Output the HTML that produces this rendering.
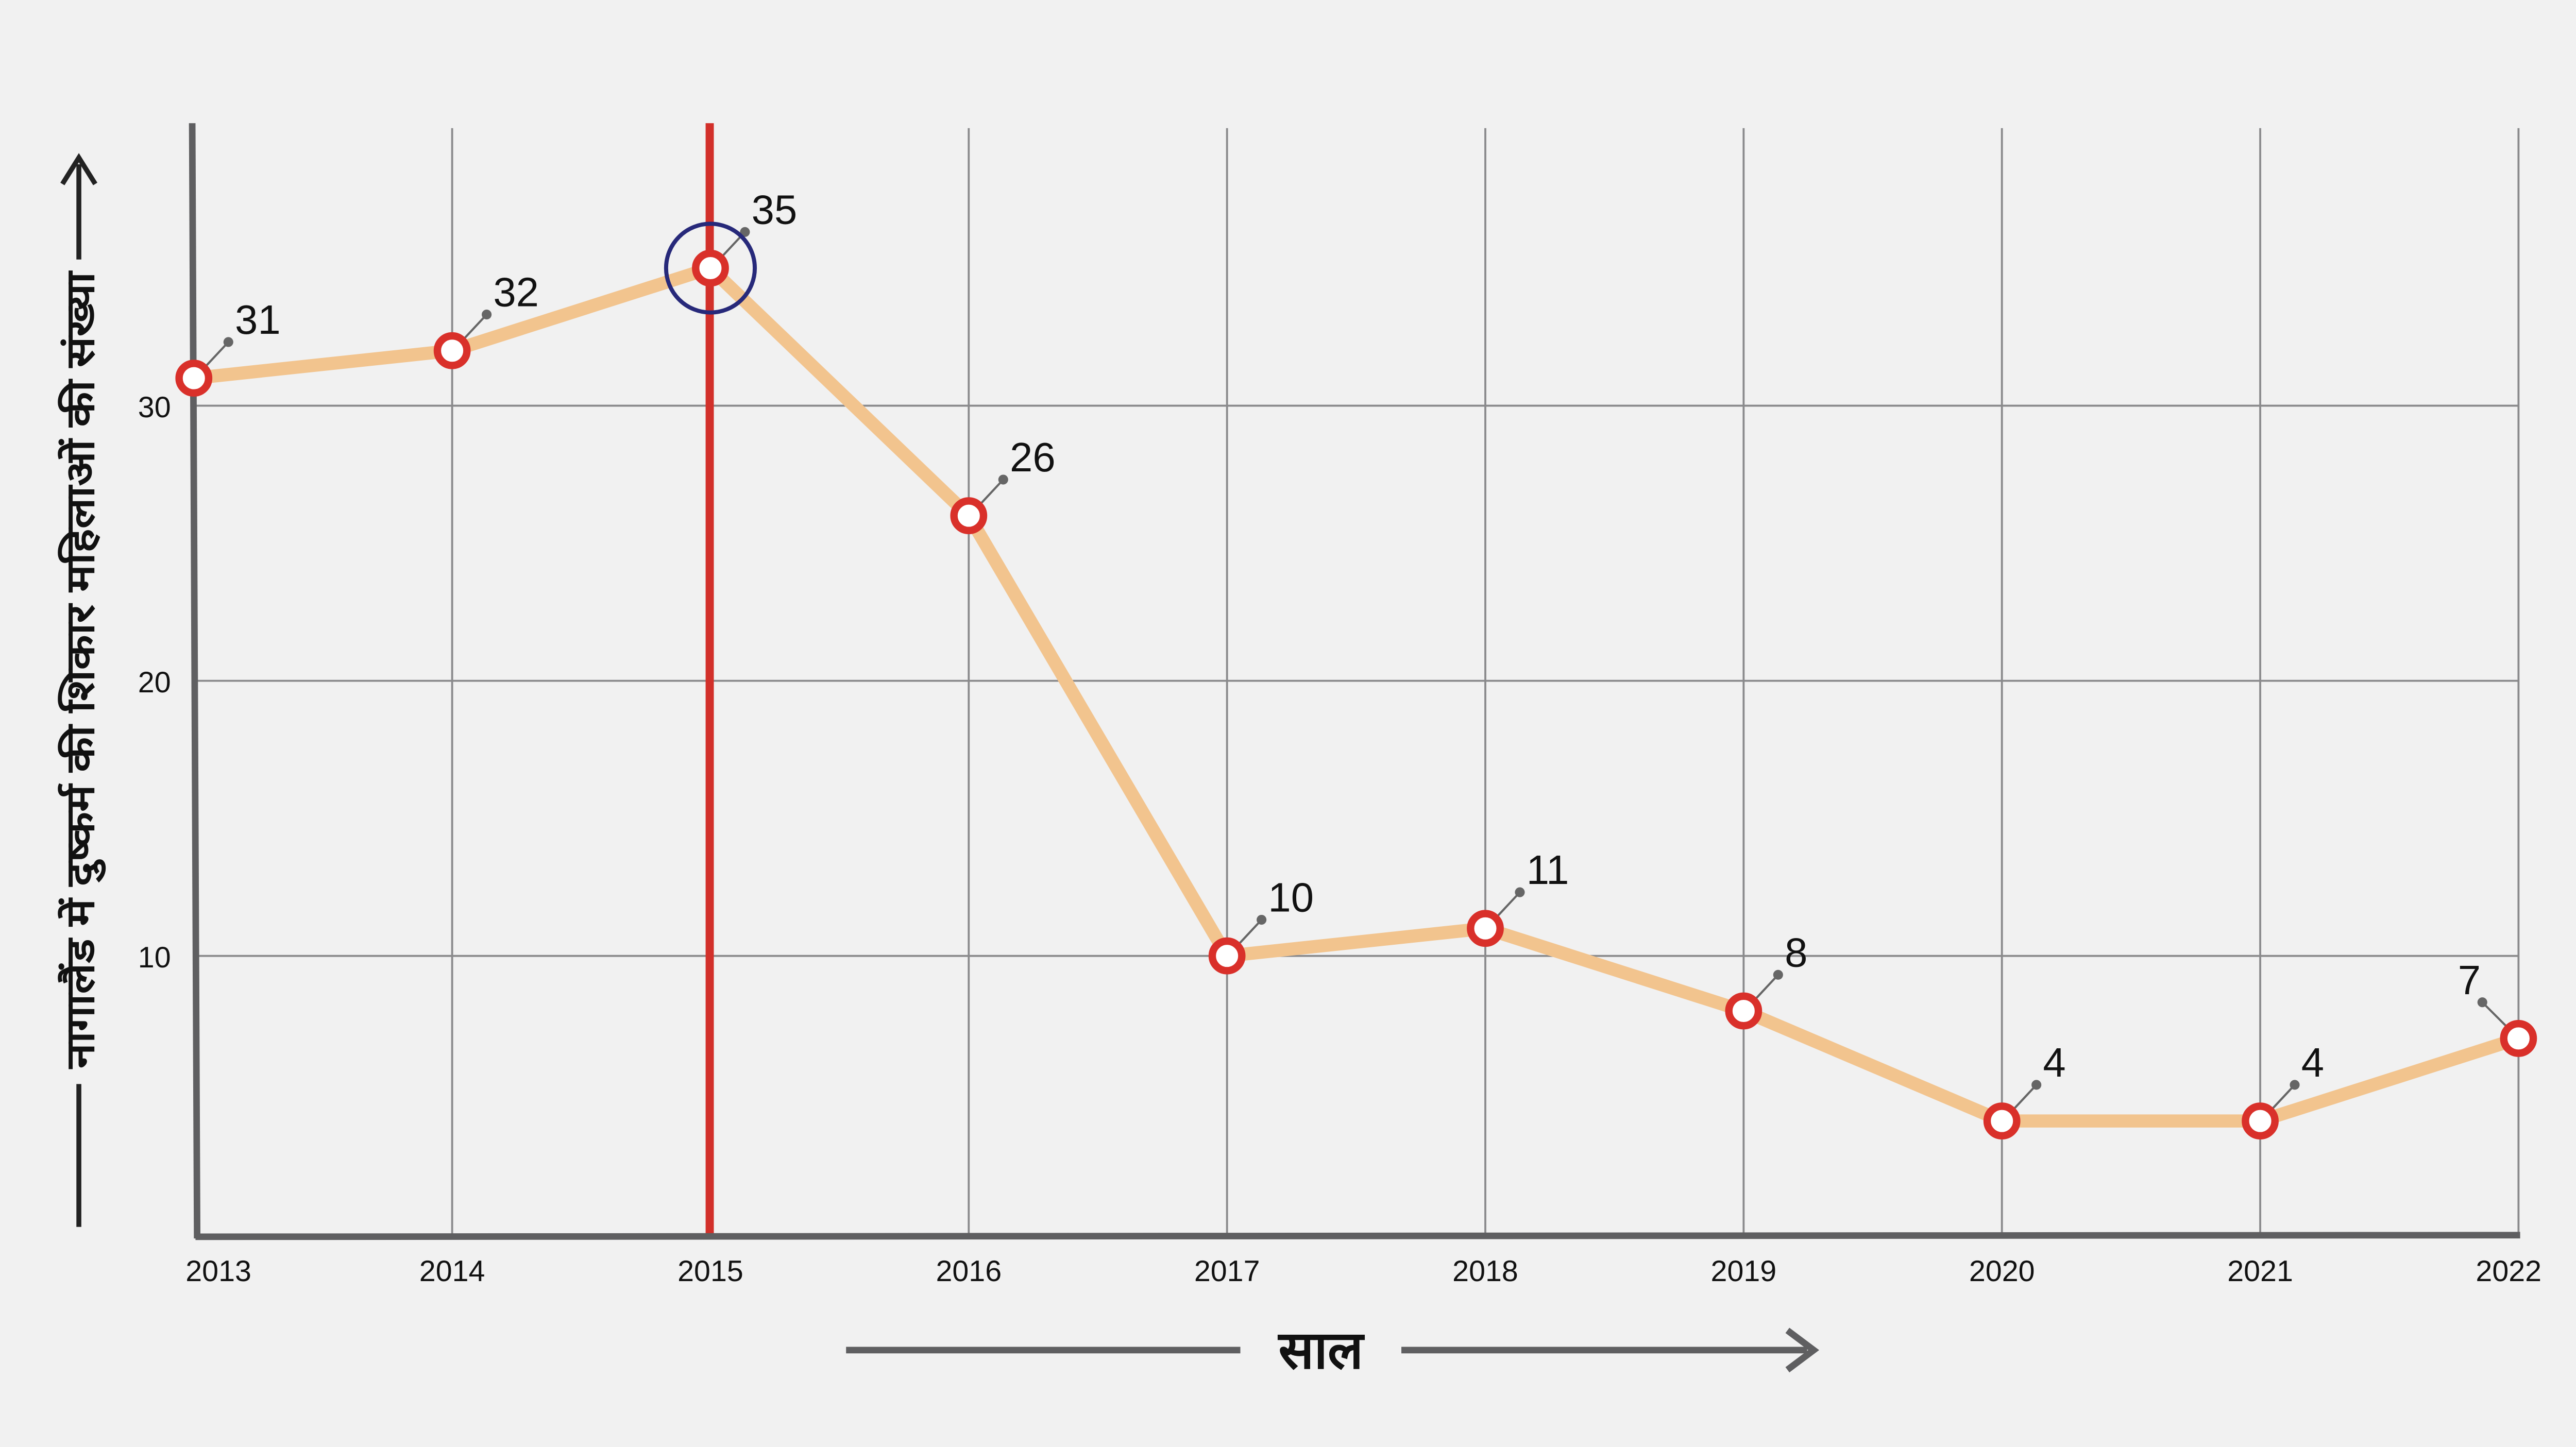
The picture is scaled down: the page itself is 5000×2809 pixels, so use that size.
<!DOCTYPE html>
<html><head><meta charset="utf-8"><style>
html,body{margin:0;padding:0;background:#f1f1f1;}
svg{display:block;}
text{font-family:"Liberation Sans","Noto Sans CJK SC",sans-serif;fill:#111;}
</style></head><body>
<svg id="chart" width="5000" height="2809" viewBox="0 0 1568 881" preserveAspectRatio="none" xmlns="http://www.w3.org/2000/svg">
<rect x="0" y="0" width="1568" height="881" fill="#f1f1f1"/>
<g id="grid"></g>
<line x1="432" y1="75" x2="432" y2="753" stroke="#d2302a" stroke-width="5"/>
<line x1="117" y1="75" x2="120" y2="754" stroke="#5f5f61" stroke-width="4"/>
<line x1="119" y1="753" x2="1534" y2="752" stroke="#5f5f61" stroke-width="4"/>
<g id="series"></g>
<g id="labels"></g>
<g>
<line x1="48" y1="660" x2="48" y2="747" stroke="#222" stroke-width="3"/>
<line x1="48" y1="158" x2="48" y2="100" stroke="#222" stroke-width="3"/>
<path d="M38,112 L48,96 L58,112" fill="none" stroke="#222" stroke-width="3"/>
<text transform="translate(57,408) rotate(-90)" text-anchor="middle" font-size="24" font-weight="bold" textLength="485" lengthAdjust="spacingAndGlyphs">नागालैंड में दुष्कर्म की शिकार महिलाओं की संख्या</text>
</g>
<g>
<line x1="515" y1="822" x2="755" y2="822" stroke="#5f5f61" stroke-width="4"/>
<line x1="853" y1="822" x2="1100" y2="822" stroke="#5f5f61" stroke-width="4"/>
<path d="M1088,810 L1104,822 L1088,834" fill="none" stroke="#5f5f61" stroke-width="4"/>
<text x="804" y="833" text-anchor="middle" font-size="32" font-weight="bold">साल</text>
</g>
</svg>
<script>
const years = ['2013','2014','2015','2016','2017','2018','2019','2020','2021','2022'];
const values = [31,32,35,26,10,11,8,4,4,7];
const yTicks = [10,20,30];
const highlightYear = '2015';

const NS='http://www.w3.org/2000/svg';
const x0=118, x1=1533, y0=749.5, pxPerUnit=16.75;
function xs(i){return x0+(x1-x0)*i/(years.length-1);}
function ys(v){return y0-v*pxPerUnit;}
function mk(tag,attrs,parent){const e=document.createElementNS(NS,tag);for(const k in attrs)e.setAttribute(k,attrs[k]);parent.appendChild(e);return e;}
const grid=document.getElementById('grid'),series=document.getElementById('series'),labels=document.getElementById('labels');
years.forEach((y,i)=>{
  if(i===0)return;
  const l=mk('line',{x1:xs(i),y1:78,x2:xs(i),y2:752,stroke:'#8a8a8c','stroke-width':1.2},grid);
  
  
});
yTicks.forEach(t=>{
  const l=mk('line',{x1:118,y1:ys(t),x2:1533,y2:ys(t),stroke:'#8a8a8c','stroke-width':1.2},grid);
  
  
  const tx=mk('text',{x:104,y:ys(t)+7,'text-anchor':'end','font-size':18},labels);
  tx.textContent=t;
  
  
});
years.forEach((y,i)=>{
  let xx=xs(i); if(i===0)xx=133; if(i===years.length-1)xx=1527;
  const tx=mk('text',{x:xx,y:780,'text-anchor':'middle','font-size':18},labels);
  tx.textContent=y;
  
  
});
const pts=values.map((v,i)=>xs(i)+','+ys(v)).join(' ');
const pl=mk('polyline',{points:pts,fill:'none',stroke:'#f2c48e','stroke-width':8,'stroke-linejoin':'round'},series);


values.forEach((v,i)=>{
  const cx=xs(i),cy=ys(v);
  const last=i===values.length-1;
  const dx=last?-22:21, dy=-22;
  const ld=mk('line',{x1:cx+(last?-7:7),y1:cy-7,x2:cx+dx,y2:cy+dy,stroke:'#666','stroke-width':1.3},series);
  
  
  const dd=mk('circle',{cx:cx+dx,cy:cy+dy,r:3,fill:'#666'},series);
  
  
  const tx=mk('text',{x:cx+dx+(last?-1:4),y:cy+dy-5,'text-anchor':last?'end':'start','font-size':25},series);
  tx.textContent=v;
  
  
  const c=mk('circle',{cx:cx,cy:cy,r:9,fill:'#fff',stroke:'#d9302a','stroke-width':4.5},series);
  
  
  if(years[i]===highlightYear){
    const h=mk('circle',{cx:cx,cy:cy,r:27,fill:'none',stroke:'#27297a','stroke-width':2.5},series);
    
    
  }
});
</script>
</body></html>
